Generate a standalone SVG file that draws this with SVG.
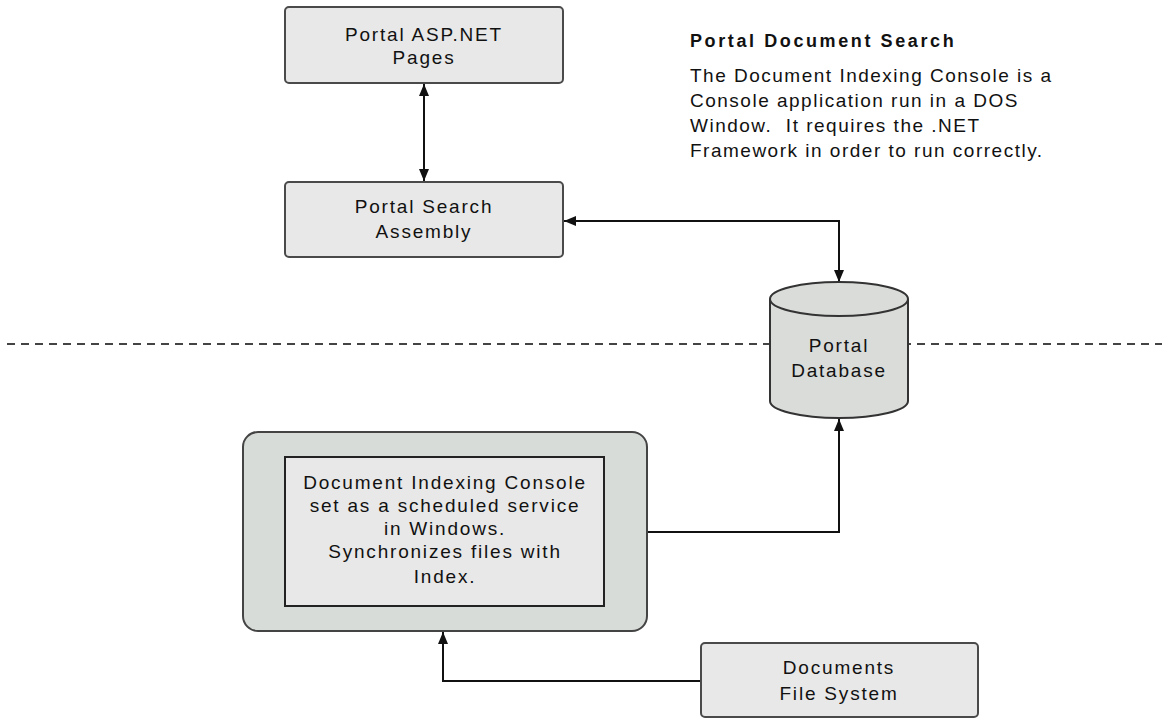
<svg xmlns="http://www.w3.org/2000/svg" width="1162" height="719" viewBox="0 0 1162 719">
  <style>
    .box { fill: #e8e8e8; stroke: #4a4a4a; stroke-width: 2; }
    .lbl { font-family: "Liberation Sans", Arial, sans-serif; font-size: 19px; letter-spacing: 1.8px; fill: #111; text-anchor: middle; }
    .note { font-family: "Liberation Sans", Arial, sans-serif; font-size: 19px; letter-spacing: 1.5px; fill: #111; }
    .title { font-family: "Liberation Sans", Arial, sans-serif; font-size: 18px; font-weight: bold; letter-spacing: 2.6px; fill: #111; }
    .conn { fill: none; stroke: #111; stroke-width: 2; }
    .sep { fill: none; stroke: #444; stroke-width: 2; stroke-dasharray: 8 6; }
  </style>
  <defs>
    <marker id="arrow" viewBox="0 0 12 10" refX="12" refY="5" markerWidth="12" markerHeight="10" markerUnits="userSpaceOnUse" orient="auto-start-reverse">
      <path d="M0,0 L12,5 L0,10 z" fill="#111"/>
    </marker>
  </defs>

  <!-- boundary between web tier and indexing tier -->
  <line class="sep" x1="7" y1="344" x2="1162" y2="344"/>

  <!-- description block -->
  <g id="description">
    <text class="title" x="690" y="47">Portal Document Search</text>
    <text class="note" x="690" y="82">The Document Indexing Console is a</text>
    <text class="note" x="690" y="107">Console application run in a DOS</text>
    <text class="note" x="690" y="132">Window.&#160; It requires the .NET</text>
    <text class="note" x="690" y="157">Framework in order to run correctly.</text>
  </g>

  <g id="connectors">
    <line class="conn" x1="424" y1="84" x2="424" y2="181" marker-start="url(#arrow)" marker-end="url(#arrow)"/>
    <polyline class="conn" points="564,221 839,221 839,282" marker-start="url(#arrow)" marker-end="url(#arrow)"/>
    <polyline class="conn" points="647,532 839,532 839,419" marker-end="url(#arrow)"/>
    <polyline class="conn" points="701,681 443,681 443,632" marker-end="url(#arrow)"/>
  </g>

  <g id="asp-pages">
    <rect class="box" x="285" y="7" width="278" height="76" rx="4"/>
    <text class="lbl" x="424" y="41">Portal ASP.NET</text>
    <text class="lbl" x="424" y="64">Pages</text>
  </g>

  <g id="search-assembly">
    <rect class="box" x="285" y="182" width="278" height="75" rx="4"/>
    <text class="lbl" x="424" y="213">Portal Search</text>
    <text class="lbl" x="424" y="238">Assembly</text>
  </g>

  <g id="portal-database">
    <path d="M770,299 A69,17 0 0,1 908,299 V401 A69,17 0 0,1 770,401 Z" fill="#d9dcd9" stroke="#333" stroke-width="2"/>
    <path d="M770,299 A69,17 0 0,0 908,299" fill="none" stroke="#333" stroke-width="2"/>
    <text class="lbl" x="839" y="352">Portal</text>
    <text class="lbl" x="839" y="377">Database</text>
  </g>

  <g id="indexing-console">
    <rect x="243" y="432" width="404" height="199" rx="15" fill="#d8dcd8" stroke="#444" stroke-width="2"/>
    <rect x="285" y="457" width="319" height="149" fill="#e8e8e8" stroke="#222" stroke-width="2"/>
    <text class="lbl" x="445" y="489">Document Indexing Console</text>
    <text class="lbl" x="445" y="512">set as a scheduled service</text>
    <text class="lbl" x="445" y="535">in Windows.</text>
    <text class="lbl" x="445" y="558">Synchronizes files with</text>
    <text class="lbl" x="445" y="583">Index.</text>
  </g>

  <g id="file-system">
    <rect class="box" x="701" y="643" width="277" height="74" rx="4"/>
    <text class="lbl" x="839" y="674">Documents</text>
    <text class="lbl" x="839" y="700">File System</text>
  </g>
</svg>
